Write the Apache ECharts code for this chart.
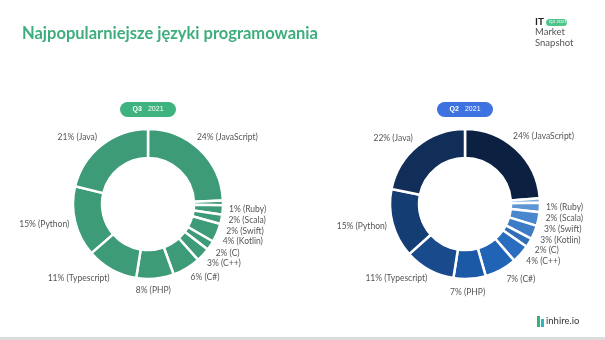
<!DOCTYPE html>
<html>
<head>
<meta charset="utf-8">
<script src="https://cdn.jsdelivr.net/npm/echarts@6/dist/echarts.min.js"></script>
<style>
  html, body { margin: 0; padding: 0; background: #fff; }
  #chart { width: 605px; height: 340px; }
</style>
</head>
<body>
<div id="chart"></div>
<script>
// kolejność zgodnie z ruchem wskazówek zegara, od godziny 12
const languages = ['JavaScript', 'Ruby', 'Scala', 'Swift', 'Kotlin', 'C', 'C++', 'C#', 'PHP', 'Typescript', 'Python', 'Java']
const q3Values = [24, 1, 2, 2, 4, 2, 3, 6, 8, 11, 15, 21]
const q2Values = [24, 1, 2, 3, 3, 2, 4, 7, 7, 11, 15, 22]
const q2Colors = ['#0c2142', '#7aa9dc', '#5e95d3', '#4a86cc', '#3d7bc6', '#2f6db8', '#2a6cbf', '#2164b5', '#1b58a6', '#184a8c', '#143d73', '#112e58']
const green = '#3d9b77'

// drobne przesunięcia etykiet (jak na slajdzie)
const labelShift = {
  0: [-12, -8], 1: [0, 7], 2: [0, 7], 3: [0, 7], 4: [0, 6], 5: [0, 4], 6: [0, 3],
  7: [0, 4], 8: [-25, 6], 9: [6, 3], 10: [5, 1], 11: [4, -3]
}

const chart = echarts.init(document.getElementById('chart'))

function pieSeries(name, cx, values, colors) {
  return {
    name: name,
    type: 'pie',
    center: [cx, 204],
    radius: [46, 75],
    startAngle: 90,
    clockwise: true,
    avoidLabelOverlap: true,
    silent: true,
    itemStyle: { borderColor: '#fff', borderWidth: 2.5 },
    label: {
      show: true,
      position: 'outside',
      formatter: '{c}% ({b})',
      color: '#555',
      fontSize: 8.5,
      lineHeight: 9,
      fontFamily: 'Lato'
    },
    labelLine: { show: false, length: 6, length2: 0 },
    labelLayout: function (params) {
      const s = labelShift[params.dataIndex]
      return s ? { dx: s[0], dy: s[1] } : {}
    },
    data: languages.map((l, i) => ({
      name: l,
      value: values[i],
      itemStyle: { color: colors ? colors[i] : green }
    }))
  }
}

function pill(cx, color, q) {
  return {
    type: 'group',
    left: cx - 28,
    top: 102,
    children: [
      { type: 'rect', shape: { x: 0, y: 0, width: 56, height: 15, r: 7.5 }, style: { fill: color } },
      {
        type: 'text', style: {
          x: 28, y: 7.5, align: 'center', verticalAlign: 'middle',
          rich: { b: { fontWeight: 'bold', fontSize: 7, fill: '#fff' }, n: { fontSize: 7, fill: '#fff' } },
          text: '{b|' + q + '}  {n|2021}', fontFamily: 'Lato'
        }
      }
    ]
  }
}

chart.setOption({
  backgroundColor: '#fff',
  animation: false,
  graphic: [
    {
      type: 'text', left: 22, top: 25,
      style: { text: 'Najpopularniejsze języki programowania', fill: '#3fae7e', fontSize: 16.5, fontWeight: 'bold', fontFamily: 'Lato' }
    },
    { type: 'text', left: 535, top: 17, style: { text: 'IT', fill: '#222', fontSize: 10, fontWeight: 'bold', fontFamily: 'Lato' } },
    { type: 'rect', left: 546, top: 19, shape: { width: 21, height: 7, r: 3.5 }, style: { fill: '#4cc48a' } },
    { type: 'text', left: 549, top: 19.5, style: { text: 'Q3 2021', fill: '#fff', fontSize: 4.5, fontFamily: 'Lato' } },
    { type: 'text', left: 535, top: 27, style: { text: 'Market', fill: '#555', fontSize: 9.5, fontFamily: 'Lato' } },
    { type: 'text', left: 535, top: 38, style: { text: 'Snapshot', fill: '#555', fontSize: 9.5, fontFamily: 'Lato' } },
    pill(148, '#3fb37f', 'Q3'),
    pill(465, '#3d72e0', 'Q2'),
    { type: 'rect', left: 537, top: 316, shape: { width: 3, height: 11 }, style: { fill: '#2fb57a' } },
    { type: 'rect', left: 541, top: 319, shape: { width: 3, height: 8 }, style: { fill: '#2fb5c0' } },
    { type: 'text', left: 546, top: 316, style: { text: 'inhire.io', fill: '#333', fontSize: 9.5, fontFamily: 'Lato' } },
    { type: 'rect', left: 0, top: 337, shape: { width: 605, height: 3 }, style: { fill: '#dcdcdc' } }
  ],
  series: [
    pieSeries('Q3 2021', 148, q3Values, null),
    pieSeries('Q2 2021', 465, q2Values, q2Colors)
  ]
})
</script>
</body>
</html>
